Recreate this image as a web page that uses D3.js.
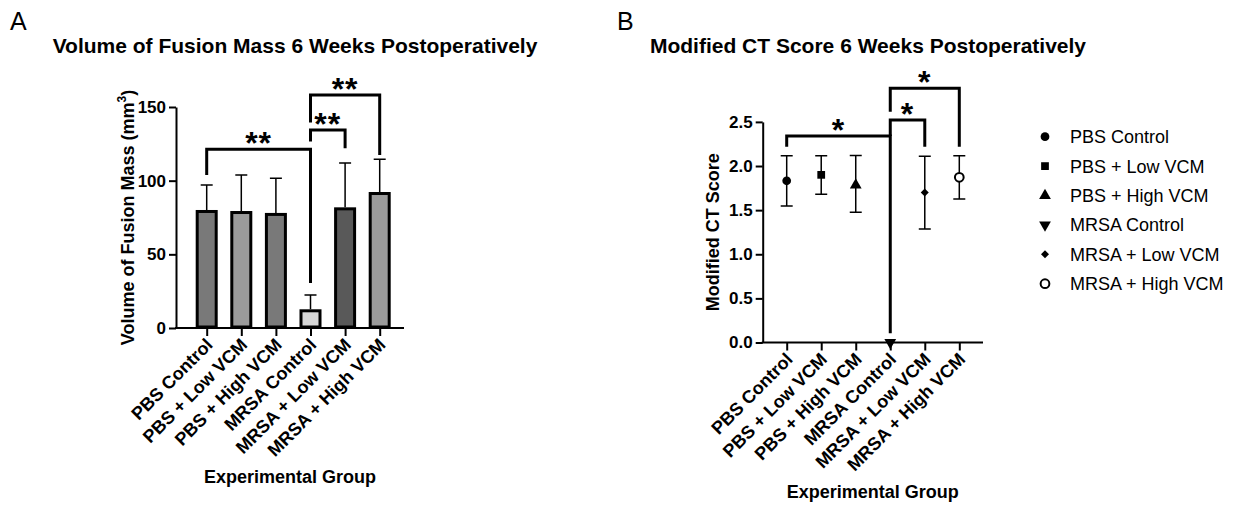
<!DOCTYPE html>
<html>
<head>
<meta charset="utf-8">
<script src="https://cdn.jsdelivr.net/npm/d3@7"></script>
<style>
  body { margin: 0; background: #fff; }
  text { font-family: Arial, "Liberation Sans", sans-serif; fill: #000; }
</style>
</head>
<body>
<div id="chart"></div>
<script>
// groups shared by both panels
var groups = ["PBS Control", "PBS + Low VCM", "PBS + High VCM", "MRSA Control", "MRSA + Low VCM", "MRSA + High VCM"];

// panel A: fusion mass volume (mm3), mean and upper error
var volMean = [80.1, 79.4, 78.1, 12.7, 81.9, 92.3];
var volUpper = [97.1, 103.9, 101.6, 22.4, 112.0, 114.5];
var volFill = ["#797979", "#9b9b9b", "#797979", "#d6d6d6", "#595959", "#9b9b9b"];
var volTicks = [0, 50, 100, 150];
// brackets: from group, to group, level, left leg end, right leg end, label
var volBrackets = [
    {from: 0, to: 3, y: 121.3, l: 103.9, r: 30.5, label: "**"},
    {from: 3, to: 4, y: 134.4, l: 126.5, r: 122.0, label: "**"},
    {from: 3, to: 5, y: 158.2, l: 139.4, r: 117.4, label: "**"}
];

// panel B: modified CT score, mean and lower/upper error
var ctMean = [1.833, 1.90, 1.785, 0.0, 1.70, 1.872];
var ctLow = [1.547, 1.68, 1.475, 0.0, 1.286, 1.626];
var ctHigh = [2.117, 2.117, 2.12, 0.0, 2.11, 2.117];
var ctTicks = [0, 0.5, 1.0, 1.5, 2.0, 2.5];
var ctSymbols = ["circle", "square", "triangle", "triangleDown", "diamond", "openCircle"];
var ctBrackets = [
    {from: 0, to: 3, y: 2.34, l: 2.219, r: 0.104, label: "*"},
    {from: 3, to: 4, y: 2.521, l: 2.34, r: 2.219, label: "*"},
    {from: 3, to: 5, y: 2.88, l: 2.615, r: 2.219, label: "*"}
];

var W = 1237, H = 505;

var svg = d3.select("#chart")
    .append("svg")
    .attr("width", W)
    .attr("height", H)
    .style("background-color", "#fff");

function symbolPath(name, size) {
    var t = {
        circle: d3.symbolCircle, openCircle: d3.symbolCircle, square: d3.symbolSquare,
        triangle: d3.symbolTriangle, triangleDown: d3.symbolTriangle, diamond: d3.symbolSquare
    }[name];
    return d3.symbol().type(t).size(size)();
}

function drawMarker(g, name, x, y, size) {
    var rot = name == "triangleDown" ? " rotate(180)" : (name == "diamond" ? " rotate(45)" : "");
    var m = g.append("path")
        .attr("d", symbolPath(name, size))
        .attr("transform", "translate(" + x + "," + y + ")" + rot);
    if (name == "openCircle") {
        m.attr("fill", "#fff").attr("stroke", "#000").attr("stroke-width", 2);
    } else {
        m.attr("fill", "#000");
    }
}

// draws axes, labels and brackets common to both panels
function drawFrame(o) {
    var g = svg.append("g");

    g.append("text").text(o.letter)
        .attr("x", o.letterX).attr("y", 30)
        .style("font-size", "25px");

    g.append("text").text(o.title)
        .attr("x", o.titleX).attr("y", 53)
        .attr("text-anchor", "middle")
        .style("font-size", "21px").style("font-weight", "bold");

    // y axis
    var yAxis = g.append("g")
        .attr("transform", "translate(" + o.left + ",0)")
        .call(d3.axisLeft(o.y).tickValues(o.ticks).tickSize(7).tickSizeOuter(0).tickPadding(3).tickFormat(o.fmt));
    yAxis.select(".domain").attr("stroke-width", 2);
    yAxis.selectAll(".tick line").attr("stroke-width", 2);
    yAxis.selectAll(".tick text")
        .style("font-size", "17px").style("font-weight", "bold")
        .style("font-family", "Arial, 'Liberation Sans', sans-serif");

    // x axis
    var base = o.y(0);
    var xAxis = g.append("g")
        .attr("transform", "translate(0," + base + ")")
        .call(d3.axisBottom(o.x).tickSize(8).tickFormat(""));
    xAxis.select(".domain").remove();
    xAxis.selectAll(".tick line").attr("stroke-width", 2);
    g.append("line")
        .attr("x1", o.left - 1).attr("x2", o.right)
        .attr("y1", base).attr("y2", base)
        .attr("stroke", "#000").attr("stroke-width", 2);

    g.selectAll(".xlab")
        .data(groups)
        .enter()
        .append("text")
        .attr("class", "xlab")
        .text(function(d) { return d; })
        .attr("text-anchor", "end")
        .attr("transform", function(d) {
            return "translate(" + (o.x(d) + 7) + "," + (base + 18) + ") rotate(-45)";
        })
        .style("font-size", "18px").style("font-weight", "bold");

    g.append("text").text("Experimental Group")
        .attr("x", (o.left + o.right) / 2).attr("y", o.xTitleY)
        .attr("text-anchor", "middle")
        .style("font-size", "18px").style("font-weight", "bold");

    var yt = g.append("text")
        .attr("transform", "translate(" + o.yTitleX + "," + (o.y.range()[0] + o.y.range()[1]) / 2 + ") rotate(-90)")
        .attr("text-anchor", "middle")
        .style("font-size", "18px").style("font-weight", "bold");
    yt.append("tspan").text(o.yTitle);
    if (o.sup) {
        yt.append("tspan").text("3").attr("dy", -8).style("font-size", "12px");
        yt.append("tspan").text(")").attr("dy", 8);
    }

    // significance brackets
    o.brackets.forEach(function(b) {
        var x1 = o.x(groups[b.from]), x2 = o.x(groups[b.to]);
        var yy = o.y(b.y);
        g.append("path")
            .attr("d", "M" + x1 + "," + o.y(b.l) + "V" + yy + "H" + x2 + "V" + o.y(b.r))
            .attr("fill", "none").attr("stroke", "#000").attr("stroke-width", 3);
        g.append("text").text(b.label)
            .attr("x", (x1 + x2) / 2).attr("y", yy + 5)
            .attr("text-anchor", "middle")
            .style("font-size", "32px").style("font-weight", "bold")
            .style("letter-spacing", "1px");
    });

    return g;
}

// ---------- panel A ----------
var xA = d3.scalePoint().domain(groups).range([206.7, 379.7]);
var yA = d3.scaleLinear().domain([0, 150]).range([328, 107]);

var gA = drawFrame({
    letter: "A", letterX: 10, title: "Volume of Fusion Mass 6 Weeks Postoperatively", titleX: 295,
    x: xA, y: yA, left: 176, right: 404, ticks: volTicks, fmt: d3.format("d"),
    yTitle: "Volume of Fusion Mass (mm", sup: true, yTitleX: 134, xTitleY: 483,
    brackets: volBrackets
});

var barW = 19;
gA.selectAll(".err")
    .data(volMean)
    .enter()
    .append("path")
    .attr("d", function(d, i) {
        var x = xA(groups[i]);
        return "M" + x + "," + yA(d) + "V" + yA(volUpper[i]) + "M" + (x - 6) + "," + yA(volUpper[i]) + "H" + (x + 6);
    })
    .attr("stroke", "#000").attr("stroke-width", 1.5).attr("fill", "none");

gA.selectAll(".bar")
    .data(volMean)
    .enter()
    .append("rect")
    .attr("x", function(d, i) { return xA(groups[i]) - barW / 2; })
    .attr("y", function(d) { return yA(d) + 1.5; })
    .attr("width", barW)
    .attr("height", function(d) { return yA(0) - yA(d) - 2.5; })
    .attr("fill", function(d, i) { return volFill[i]; })
    .attr("stroke", "#000").attr("stroke-width", 3);

// ---------- panel B ----------
var xB = d3.scalePoint().domain(groups).range([786.7, 959.3]);
var yB = d3.scaleLinear().domain([0, 2.5]).range([342.5, 121.9]);

var gB = drawFrame({
    letter: "B", letterX: 617, title: "Modified CT Score 6 Weeks Postoperatively", titleX: 868,
    x: xB, y: yB, left: 762.7, right: 983, ticks: ctTicks, fmt: d3.format(".1f"),
    yTitle: "Modified CT Score", sup: false, yTitleX: 719, xTitleY: 498,
    brackets: ctBrackets
});

ctMean.forEach(function(d, i) {
    var x = xB(groups[i]);
    if (ctHigh[i] > ctLow[i]) {
        gB.append("path")
            .attr("d", "M" + x + "," + yB(ctLow[i]) + "V" + yB(ctHigh[i]) +
                "M" + (x - 6) + "," + yB(ctHigh[i]) + "H" + (x + 6) +
                "M" + (x - 6) + "," + yB(ctLow[i]) + "H" + (x + 6))
            .attr("stroke", "#000").attr("stroke-width", 1.5).attr("fill", "none");
    }
    drawMarker(gB, ctSymbols[i], x, yB(d), ctSymbols[i] == "diamond" ? 32 : 60);
});

// legend
var legend = svg.append("g");
groups.forEach(function(name, i) {
    var y = 136.7 + i * 29.4;
    drawMarker(legend, ctSymbols[i], 1045, y, ctSymbols[i] == "diamond" ? 32 : 60);
    legend.append("text").text(name)
        .attr("x", 1070).attr("y", y + 6.5)
        .style("font-size", "18px");
});
</script>
</body>
</html>
